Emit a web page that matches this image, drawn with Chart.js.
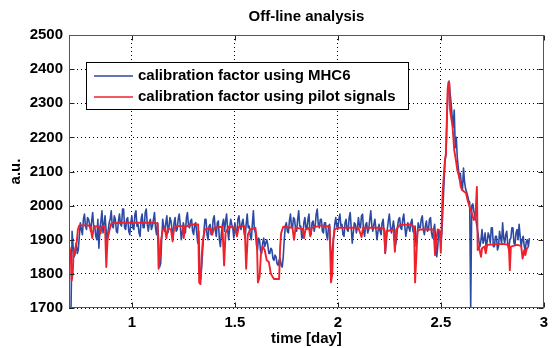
<!DOCTYPE html>
<html>
<head>
<meta charset="utf-8">
<script src="https://cdn.jsdelivr.net/npm/chart.js@4.4.1/dist/chart.umd.min.js"></script>
<style>
html,body{margin:0;padding:0;background:#fff;}
canvas{display:block;}
</style>
</head>
<body>
<canvas id="c" width="554" height="348"></canvas>
<script>
// ---- data ----
const chartTitle = 'Off-line analysis';
const xLabel = 'time [day]';
const yLabel = 'a.u.';
const seriesNames = ['calibration factor using MHC6', 'calibration factor using pilot signals'];
const xTicks = [1, 1.5, 2, 2.5, 3];
const yTicks = [1700, 1800, 1900, 2000, 2100, 2200, 2300, 2400, 2500];

// sample times of the MHC6 series [day]
const mhc6Time = [
0.700,0.705,0.710,0.715,0.720,0.725,0.730,0.735,0.740,0.745,0.750,0.755,0.760,0.765,0.770,0.775,0.780,0.785,0.790,0.795,
0.800,0.805,0.810,0.815,0.820,0.825,0.830,0.835,0.840,0.845,0.850,0.855,0.860,0.865,0.870,0.875,0.880,0.885,0.890,0.895,
0.900,0.905,0.910,0.915,0.920,0.925,0.930,0.935,0.940,0.945,0.950,0.955,0.960,0.965,0.970,0.975,0.980,0.985,0.990,0.995,
1.000,1.005,1.010,1.015,1.020,1.025,1.030,1.035,1.040,1.045,1.050,1.055,1.060,1.065,1.070,1.075,1.080,1.085,1.090,1.095,
1.100,1.105,1.110,1.115,1.120,1.125,1.130,1.135,1.140,1.145,1.150,1.155,1.160,1.165,1.170,1.175,1.180,1.185,1.190,1.195,
1.200,1.205,1.210,1.215,1.220,1.225,1.230,1.235,1.240,1.245,1.250,1.255,1.260,1.265,1.270,1.275,1.280,1.285,1.290,1.295,
1.300,1.305,1.310,1.315,1.320,1.325,1.330,1.335,1.340,1.345,1.350,1.355,1.360,1.365,1.370,1.375,1.380,1.385,1.390,1.395,
1.400,1.405,1.410,1.415,1.420,1.425,1.430,1.435,1.440,1.445,1.450,1.455,1.460,1.465,1.470,1.475,1.480,1.485,1.490,1.495,
1.500,1.505,1.510,1.515,1.520,1.525,1.530,1.535,1.540,1.545,1.550,1.555,1.560,1.565,1.570,1.575,1.580,1.585,1.590,1.595,
1.600,1.605,1.610,1.615,1.620,1.625,1.630,1.635,1.640,1.645,1.650,1.655,1.660,1.665,1.670,1.675,1.680,1.685,1.690,1.695,
1.700,1.705,1.710,1.715,1.720,1.725,1.730,1.735,1.740,1.745,1.750,1.755,1.760,1.765,1.770,1.775,1.780,1.785,1.790,1.795,
1.800,1.805,1.810,1.815,1.820,1.825,1.830,1.835,1.840,1.845,1.850,1.855,1.860,1.865,1.870,1.875,1.880,1.885,1.890,1.895,
1.900,1.905,1.910,1.915,1.920,1.925,1.930,1.935,1.940,1.945,1.950,1.955,1.960,1.965,1.970,1.975,1.980,1.985,1.990,1.995,
2.000,2.005,2.010,2.015,2.020,2.025,2.030,2.035,2.040,2.045,2.050,2.055,2.060,2.065,2.070,2.075,2.080,2.085,2.090,2.095,
2.100,2.105,2.110,2.115,2.120,2.125,2.130,2.135,2.140,2.145,2.150,2.155,2.160,2.165,2.170,2.175,2.180,2.185,2.190,2.195,
2.200,2.205,2.210,2.215,2.220,2.225,2.230,2.235,2.240,2.245,2.250,2.255,2.260,2.265,2.270,2.275,2.280,2.285,2.290,2.295,
2.300,2.305,2.310,2.315,2.320,2.325,2.330,2.335,2.340,2.345,2.350,2.355,2.360,2.365,2.370,2.375,2.380,2.385,2.390,2.395,
2.400,2.405,2.410,2.415,2.420,2.425,2.430,2.435,2.440,2.445,2.450,2.455,2.460,2.465,2.470,2.475,2.480,2.485,2.490,2.495,
2.500,2.505,2.510,2.515,2.520,2.525,2.530,2.535,2.540,2.545,2.550,2.555,2.560,2.565,2.570,2.575,2.580,2.585,2.590,2.595,
2.600,2.605,2.610,2.615,2.620,2.625,2.630,2.635,2.640,2.645,2.650,2.655,2.660,2.665,2.670,2.675,2.680,2.685,2.690,2.695,
2.700,2.705,2.710,2.715,2.720,2.725,2.730,2.735,2.740,2.745,2.750,2.755,2.760,2.765,2.770,2.775,2.780,2.785,2.790,2.795,
2.800,2.805,2.810,2.815,2.820,2.825,2.830,2.835,2.840,2.845,2.850,2.855,2.860,2.865,2.870,2.875,2.880,2.885,2.890,2.895,
2.900,2.905,2.910,2.915,2.920,2.925,2.930
];
// MHC6 calibration factor [a.u.]
const mhc6Value = [
1700,1705,1925,1880,1850,1870,1890,1860,1870,1910,1950,1930,1915,1960,1975,1940,1930,1965,1960,1945,
1925,1955,1980,1935,1940,1910,1900,1960,1875,1930,1955,1985,1920,1945,1970,1930,1890,1925,1950,1960,
1985,1940,1935,1970,1960,1925,1920,1955,1975,1945,1940,1990,1990,1935,1930,1960,1965,1925,1915,1950,
1970,1935,1930,1975,1985,1940,1945,1920,1910,1960,1975,1935,1935,1980,1990,1945,1925,1950,1960,1930,
1940,1960,1980,1935,1915,1950,1900,1820,1830,1900,1960,1935,1925,1950,1970,1920,1935,1965,1955,1930,
1910,1950,1965,1925,1930,1960,1975,1945,1900,1920,1950,1935,1920,1965,1980,1940,1935,1955,1960,1925,
1915,1945,1950,1920,1890,1925,1800,1785,1830,1880,1925,1960,1960,1915,1900,1940,1945,1915,1920,1960,
1970,1930,1910,1950,1955,1900,1880,1920,1945,1960,1925,1955,1975,1930,1900,1935,1960,1945,1935,1905,
1950,1925,1915,1960,1970,1940,1930,1950,1960,1920,1905,1945,1975,1935,1940,1910,1900,1945,1985,1930,
1920,1885,1870,1905,1900,1865,1860,1890,1905,1880,1890,1900,1885,1860,1860,1875,1870,1845,1840,1855,
1850,1830,1825,1840,1845,1825,1820,1850,1900,1940,1950,1925,1920,1955,1975,1940,1935,1965,1960,1930,
1925,1960,1985,1940,1940,1905,1905,1950,1965,1935,1930,1960,1975,1920,1915,1950,1955,1925,1940,1975,
1990,1945,1935,1960,1960,1925,1920,1950,1950,1915,1900,1940,1945,1870,1830,1880,1910,1945,1965,1940,
1930,1960,1975,1940,1945,1915,1910,1950,1960,1930,1925,1965,1980,1935,1890,1920,1950,1945,1920,1935,
1965,1940,1935,1970,1975,1925,1910,1945,1950,1920,1930,1960,1985,1940,1925,1945,1960,1930,1900,1925,
1945,1925,1915,1950,1960,1920,1860,1890,1930,1955,1975,1940,1920,1935,1955,1930,1885,1900,1940,1960,
1965,1935,1930,1960,1975,1940,1910,1930,1950,1935,1925,1950,1960,1925,1920,1940,1880,1905,1950,1935,
1935,1960,1970,1930,1915,1940,1955,1925,1930,1960,1965,1920,1905,1930,1945,1900,1850,1880,1930,1915,
1890,1920,1990,2060,2130,2150,2260,2340,2365,2330,2300,2260,2230,2280,2170,2200,2140,2110,2080,2095,
2060,2045,2110,2070,2050,2040,2030,2015,2010,1700,2000,2005,1985,1970,1960,1940,1920,1895,1880,1900,
1930,1890,1900,1920,1875,1895,1920,1910,1890,1935,1935,1880,1880,1910,1910,1870,1880,1925,1905,1890,
1950,1905,1890,1915,1925,1885,1870,1900,1905,1935,1935,1890,1885,1920,1930,1900,1945,1910,1880,1900,
1910,1880,1870,1895,1900,1880,1905
];

// sample times of the pilot-signal series [day]
const pilotTime = [
0.697,0.703,0.708,0.713,0.718,0.723,0.728,0.733,0.738,0.745,
0.79,0.80,0.808,0.815,0.84,0.848,0.855,0.87,0.876,0.882,
0.89,0.90,0.95,1.00,1.05,1.10,1.125,1.13,1.136,1.142,
1.15,1.16,1.168,1.175,1.19,1.198,1.205,1.22,1.248,1.252,
1.258,1.30,1.322,1.327,1.333,1.34,1.345,1.355,1.38,1.39,
1.40,1.44,1.448,1.455,1.47,1.50,1.51,1.52,1.548,1.555,
1.563,1.575,1.60,1.607,1.612,1.62,1.627,1.635,1.645,1.655,
1.665,1.675,1.69,1.715,1.72,1.725,1.735,1.78,1.787,1.795,
1.83,1.836,1.843,1.86,1.866,1.873,1.92,1.96,1.967,1.973,
1.978,1.985,2.00,2.10,2.115,2.122,2.20,2.225,2.23,2.236,
2.27,2.277,2.284,2.30,2.35,2.37,2.375,2.381,2.387,2.40,
2.465,2.472,2.478,2.485,2.495,2.50,2.509,2.52,2.525,2.533,
2.537,2.541,2.545,2.557,2.565,2.573,2.58,2.589,2.597,2.603,
2.622,2.63,2.64,2.65,2.66,2.668,2.675,2.679,2.685,2.695,
2.70,2.712,2.718,2.725,2.80,2.83,2.835,2.84,2.87,2.89,
2.897,2.905,2.91,2.918,2.925
];
// pilot-signal calibration factor [a.u.]
const pilotValue = [
1880,1860,1780,1800,1870,1855,1880,1895,1930,1942,
1942,1935,1905,1938,1940,1918,1940,1938,1820,1900,
1925,1948,1950,1950,1950,1950,1948,1815,1850,1900,
1928,1935,1905,1935,1930,1895,1935,1940,1940,1905,
1938,1945,1945,1775,1770,1860,1900,1930,1935,1915,
1935,1938,1825,1920,1938,1935,1910,1938,1940,1815,
1915,1930,1935,1900,1775,1790,1860,1880,1870,1840,
1835,1800,1785,1785,1880,1920,1938,1935,1900,1935,
1932,1905,1930,1935,1910,1935,1942,1938,1775,1800,
1900,1930,1935,1935,1908,1935,1935,1932,1862,1925,
1930,1865,1930,1943,1945,1938,1775,1850,1925,1930,
1930,1855,1900,1930,1925,1862,2040,2134,2154,2340,
2362,2360,2280,2231,2163,2134,2104,2085,2055,2046,
2037,2016,1996,1978,1958,1967,2055,1870,1880,1850,
1875,1880,1860,1885,1888,1885,1811,1880,1885,1882,
1845,1870,1855,1875,1878
];

const BLUE = '#2d4aa3';
const RED = '#f0212b';
const FONT = 'Liberation Sans, Arial, Helvetica, sans-serif';
const font15 = {family: FONT, size: 15, weight: 'bold'};

const toPoints = (ts, vs) => ts.map((t, i) => ({x: t, y: vs[i]}));

const framePlugin = {
  id: 'frame',
  afterDraw(chart) {
    const {ctx, chartArea: a, scales} = chart;
    const L = Math.round(a.left) + 0.5, R = Math.round(a.right) - 0.5;
    const T = Math.round(a.top) + 0.5, B = Math.round(a.bottom) - 0.5;
    ctx.save();
    ctx.strokeStyle = '#222';
    ctx.lineWidth = 1;
    ctx.beginPath();
    xTicks.forEach(v => {
      const px = Math.round(scales.x.getPixelForValue(v)) + 0.5;
      ctx.moveTo(px, B); ctx.lineTo(px, B - 5);
      ctx.moveTo(px, T); ctx.lineTo(px, T + 5);
    });
    yTicks.forEach(v => {
      const py = Math.round(scales.y.getPixelForValue(v)) + 0.5;
      ctx.moveTo(L, py); ctx.lineTo(L + 5, py);
      ctx.moveTo(R, py); ctx.lineTo(R - 5, py);
    });
    ctx.stroke();
    ctx.strokeStyle = '#555';
    ctx.strokeRect(L, T, R - L, B - T);
    ctx.fillStyle = '#000';
    ctx.font = 'bold 15px ' + FONT;
    ctx.textAlign = 'center';
    ctx.textBaseline = 'middle';
    ctx.fillText(chartTitle, (a.left + a.right) / 2, 17);
    const lx = 86.5, ly = 62.5, lw = 322, lh = 47;
    ctx.fillStyle = '#fff';
    ctx.fillRect(lx, ly, lw, lh);
    ctx.strokeStyle = '#000';
    ctx.strokeRect(lx, ly, lw, lh);
    const rows = [76, 97];
    chart.data.datasets.forEach((ds, i) => {
      ctx.strokeStyle = ds.borderColor;
      ctx.lineWidth = 1.3;
      ctx.beginPath();
      ctx.moveTo(94, rows[i]);
      ctx.lineTo(133, rows[i]);
      ctx.stroke();
      ctx.fillStyle = '#000';
      ctx.textAlign = 'left';
      ctx.fillText(ds.label, 138, rows[i]);
    });
    ctx.restore();
  }
};

new Chart(document.getElementById('c'), {
  type: 'line',
  data: {
    datasets: [
      {label: seriesNames[0], data: toPoints(mhc6Time, mhc6Value), borderColor: BLUE, borderWidth: 1.6,
       pointRadius: 0, tension: 0, borderJoinStyle: 'round', order: 2},
      {label: seriesNames[1], data: toPoints(pilotTime, pilotValue), borderColor: RED, borderWidth: 1.9,
       pointRadius: 0, tension: 0, borderJoinStyle: 'round', order: 1}
    ]
  },
  options: {
    responsive: false,
    animation: false,
    events: [],
    layout: {padding: {top: 35, right: 4, left: 0, bottom: 0}},
    plugins: {legend: {display: false}, title: {display: false}, tooltip: {enabled: false}},
    scales: {
      x: {
        type: 'linear', min: 0.695, max: 3,
        afterBuildTicks: s => { s.ticks = xTicks.map(v => ({value: v})); },
        afterFit: s => { s.height = 40; },
        ticks: {callback: v => String(v), font: font15, color: '#000', padding: 6, maxRotation: 0, autoSkip: false},
        grid: {color: '#000', lineWidth: 1, drawTicks: false},
        border: {display: false, dash: [1, 3]},
        title: {display: true, text: xLabel, font: font15, color: '#000', padding: {top: 0, bottom: 0}}
      },
      y: {
        type: 'linear', min: 1700, max: 2500,
        afterBuildTicks: s => { s.ticks = yTicks.map(v => ({value: v})); },
        afterFit: s => { s.width = 69; },
        ticks: {callback: v => String(v), font: font15, color: '#000', padding: 6, autoSkip: false},
        grid: {color: '#000', lineWidth: 1, drawTicks: false},
        border: {display: false, dash: [1, 3]},
        title: {display: true, text: yLabel, font: font15, color: '#000', padding: {top: 7, bottom: 0}}
      }
    }
  },
  plugins: [framePlugin]
});
</script>
</body>
</html>
